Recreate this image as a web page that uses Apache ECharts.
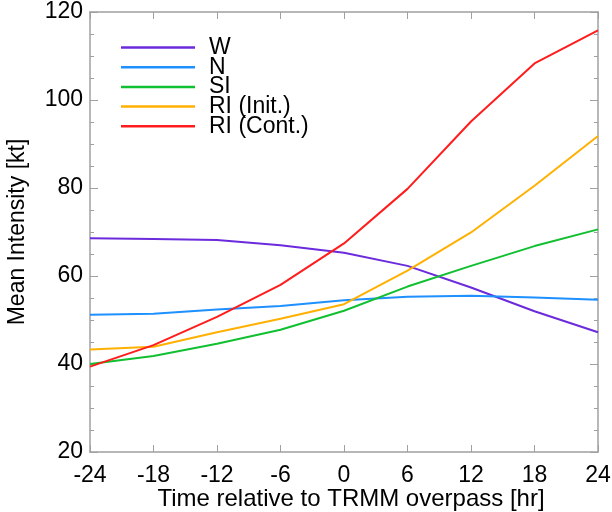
<!DOCTYPE html>
<html>
<head>
<meta charset="utf-8">
<script src="https://cdn.jsdelivr.net/npm/echarts@6/dist/echarts.min.js"></script>
<style>
  html, body { margin: 0; padding: 0; background: #fff; }
  #chart { width: 612px; height: 512px; }
</style>
</head>
<body>
<div id="chart"></div>
<script>
var hours = [-24, -18, -12, -6, 0, 6, 12, 18, 24]
var seriesNames = ['W', 'N', 'SI', 'RI (Init.)', 'RI (Cont.)']
var wValues = [68.6, 68.4, 68.2, 67.0, 65.3, 62.3, 57.4, 52.0, 47.2]
var nValues = [51.2, 51.4, 52.4, 53.2, 54.5, 55.3, 55.5, 55.1, 54.6]
var siValues = [40.0, 41.8, 44.6, 47.8, 52.1, 57.6, 62.3, 66.8, 70.6]
var riInitValues = [43.3, 43.9, 47.2, 50.3, 53.6, 61.2, 69.9, 80.5, 91.8]
var riContValues = [39.4, 44.3, 50.7, 58.0, 67.4, 79.8, 95.1, 108.3, 115.8]
var colors = ['#6b2bdc', '#1e90ff', '#10c030', '#ffb000', '#ff1c1c']
var yTicks = [20, 40, 60, 80, 100, 120]
var xTicks = [-24, -18, -12, -6, 0, 6, 12, 18, 24]

var font = 'Liberation Sans, Arial, Helvetica, sans-serif'
var allValues = [wValues, nValues, siValues, riInitValues, riContValues]

function pairs (vals) {
  return hours.map(function (h, i) { return [h, vals[i]] })
}

var chart = echarts.init(document.getElementById('chart'))

var axisGray = '#a0a0a0'
var option = {
  animation: false,
  backgroundColor: '#fff',
  textStyle: { fontFamily: font },
  grid: { left: 90, right: 14, top: 12, bottom: 60, containLabel: false, outerBoundsMode: 'none' },
  legend: {
    orient: 'vertical',
    left: 116,
    top: 31,
    itemWidth: 74,
    itemHeight: 2.5,
    itemGap: -3.3,
    icon: 'rect',
    data: seriesNames.map(function (n, i) {
      return { name: n, itemStyle: { color: colors[i] } }
    }),
    textStyle: { fontSize: 23, color: '#000', fontFamily: font, padding: [0, 0, 0, 9] }
  },
  xAxis: [{
    type: 'value',
    min: -24,
    max: 24,
    interval: 6,
    name: 'Time relative to TRMM overpass [hr]',
    nameLocation: 'middle',
    nameGap: 35,
    nameMoveOverlap: false,
    nameTextStyle: { fontSize: 24, color: '#000', padding: [0, 0, 0, 14] },
    axisLine: { onZero: false, lineStyle: { color: axisGray, width: 1.5 } },
    axisTick: { inside: true, length: 7, lineStyle: { color: axisGray } },
    axisLabel: {
      fontSize: 23, color: '#000', margin: 12,
      formatter: function (v) { return xTicks.indexOf(v) >= 0 ? String(v) : '' }
    },
    splitLine: { show: false }
  }, {
    type: 'value',
    position: 'top',
    min: -24,
    max: 24,
    interval: 6,
    axisLine: { show: true, onZero: false, lineStyle: { color: axisGray, width: 1.5 } },
    axisTick: { inside: true, length: 7, lineStyle: { color: axisGray } },
    axisLabel: { show: false },
    splitLine: { show: false }
  }],
  yAxis: [{
    type: 'value',
    min: 20,
    max: 120,
    interval: 20,
    name: 'Mean Intensity [kt]',
    nameLocation: 'middle',
    nameGap: 61,
    nameMoveOverlap: false,
    nameTextStyle: { fontSize: 23, color: '#000' },
    axisLine: { show: true, onZero: false, lineStyle: { color: axisGray, width: 1.5 } },
    axisTick: { inside: true, length: 8, lineStyle: { color: axisGray } },
    minorTick: { show: true, splitNumber: 4, length: 4, lineStyle: { color: axisGray } },
    axisLabel: {
      fontSize: 23, color: '#000', margin: 7,
      formatter: function (v) { return yTicks.indexOf(v) >= 0 ? String(v) : '' }
    },
    splitLine: { show: false }
  }, {
    type: 'value',
    position: 'right',
    min: 20,
    max: 120,
    interval: 20,
    axisLine: { show: true, onZero: false, lineStyle: { color: axisGray, width: 1.5 } },
    axisTick: { inside: true, length: 8, lineStyle: { color: axisGray } },
    minorTick: { show: true, splitNumber: 4, length: 4, lineStyle: { color: axisGray } },
    axisLabel: { show: false },
    splitLine: { show: false }
  }],
  series: seriesNames.map(function (n, i) {
    return {
      name: n,
      type: 'line',
      symbol: 'none',
      xAxisIndex: 0,
      yAxisIndex: 0,
      data: pairs(allValues[i]),
      lineStyle: { color: colors[i], width: 2 },
      itemStyle: { color: colors[i] },
      z: 2 + i
    }
  })
}

chart.setOption(option)
</script>
</body>
</html>
